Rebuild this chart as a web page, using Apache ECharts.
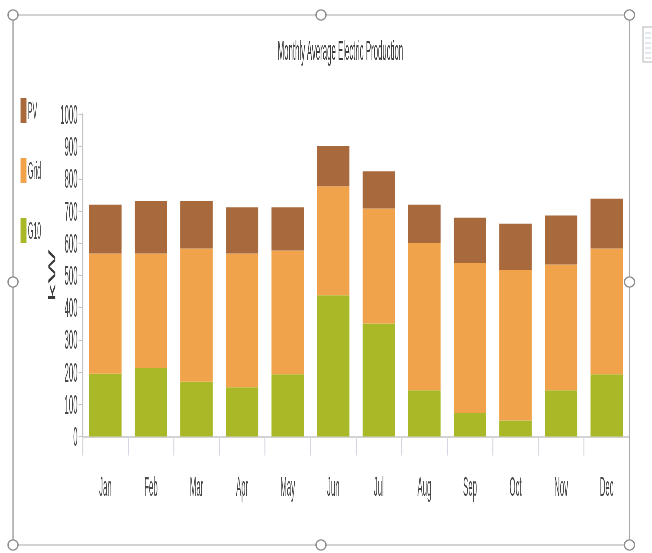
<!DOCTYPE html>
<html>
<head>
<meta charset="utf-8">
<script src="https://cdn.jsdelivr.net/npm/echarts@6/dist/echarts.min.js"></script>
<style>
html,body{margin:0;padding:0;background:#fff;overflow:hidden;width:652px;height:553px;}
#wrap{position:absolute;left:0;top:0;width:2248px;height:553px;transform:scaleX(0.29);transform-origin:0 0;will-change:transform;}
</style>
</head>
<body>
<div id="wrap"></div>
<script>
// Data
const months = ['Jan','Feb','Mar','Apr','May','Jun','Jul','Aug','Sep','Oct','Nov','Dec'];
const g10  = [195, 213, 170, 153, 193, 439, 351, 144, 73, 50, 144, 193];
const grid = [373, 355, 414, 415, 385, 338, 357, 457, 466, 467, 390, 391];
const pv   = [152, 163, 147, 144, 134, 125, 116, 119, 140, 144, 152, 154];
const legendNames = ['PV', 'Grid', 'G10'];
const chartTitle = 'Monthly Average Electric Production';
const yName = 'kW';

// The reference picture is horizontally squeezed; render wide, then compress.
const SX = 0.29;
const WIDE = 2248;
const W = (x) => x / SX;   // screen x -> wide x

const chart = echarts.init(document.getElementById('wrap'), null, {renderer: 'svg'});
const font = 'Liberation Sans, Arial, sans-serif';
const txt = '#474747';

function handle(x, y) {
  return {type: 'circle', x: W(x), y: y, scaleX: 1 / SX, z: 100,
    shape: {cx: 0, cy: 0, r: 5},
    style: {fill: '#fff', stroke: '#8c8c8c', lineWidth: 1.3}};
}
const frameColor = '#a8a8a8';
const graphics = [
  {type: 'line', z: 50, shape: {x1: W(13), y1: 15, x2: W(629), y2: 15}, style: {stroke: frameColor, lineWidth: 1.2}},
  {type: 'line', z: 50, shape: {x1: W(13), y1: 545, x2: W(629), y2: 545}, style: {stroke: frameColor, lineWidth: 1.2}},
  {type: 'line', z: 50, shape: {x1: W(13), y1: 15, x2: W(13), y2: 545}, style: {stroke: frameColor, lineWidth: 1.2 / SX}},
  {type: 'line', z: 50, shape: {x1: W(629.5), y1: 15, x2: W(629.5), y2: 545}, style: {stroke: frameColor, lineWidth: 1.2 / SX}},
  handle(13, 15), handle(321, 15), handle(629.5, 15),
  handle(13, 282), handle(629.5, 282),
  handle(13, 545), handle(321, 545), handle(629.5, 545),
  {type: 'rect', x: W(643), y: 27, scaleX: 1 / SX, z: 50,
    shape: {x: 0, y: 0, width: 14, height: 35},
    style: {fill: '#fff', stroke: '#b5b5b5', lineWidth: 1}}
];
[33, 38, 43, 48, 53, 58].forEach(function (yy) {
  graphics.push({type: 'line', z: 51,
    shape: {x1: W(645.5), y1: yy, x2: W(651), y2: yy},
    style: {stroke: '#7f93b0', lineWidth: 1, lineDash: [W(1), W(1)]}});
});

const option = {
  backgroundColor: '#fff',
  animation: false,
  title: {
    text: chartTitle,
    left: W(339), top: 32, textAlign: 'center',
    textStyle: {fontFamily: font, fontSize: 27, fontWeight: 'normal', color: '#3a3a3a'}
  },
  legend: {
    data: legendNames,
    orient: 'vertical',
    left: W(20.5), top: 98,
    icon: 'rect',
    itemWidth: 6 / SX, itemHeight: 25, itemGap: 35,
    padding: 0,
    textStyle: {fontFamily: font, fontSize: 24, color: txt}
  },
  grid: {left: W(82.6), right: WIDE - W(629.5), top: 114.5, bottom: 553 - 436.5, containLabel: false},
  xAxis: {
    type: 'category',
    data: months,
    axisLine: {lineStyle: {color: '#c4c4c4', width: 1.5}},
    axisTick: {show: true, alignWithLabel: false, length: 19, lineStyle: {color: '#d4d8e0', width: 1 / SX}},
    axisLabel: {fontFamily: font, fontSize: 27, color: txt, margin: 36}
  },
  yAxis: {
    type: 'value',
    min: 0, max: 1000, interval: 100,
    name: yName,
    nameLocation: 'middle',
    nameRotate: 90,
    nameGap: 77,
    nameTextStyle: {fontFamily: font, fontSize: 36, color: '#3a3a3a'},
    axisLine: {show: true, lineStyle: {color: '#c4c4c4', width: 1 / SX}},
    axisTick: {show: true, length: 4 / SX, lineStyle: {color: '#c4c4c4', width: 1}},
    axisLabel: {fontFamily: font, fontSize: 27, color: txt, margin: 5 / SX,
      formatter: function (v) { return String(v); }},
    splitLine: {show: false}
  },
  series: [
    {name: 'G10', type: 'bar', stack: 'total', data: g10, barCategoryGap: '29%',
      itemStyle: {color: '#a9b827'}},
    {name: 'Grid', type: 'bar', stack: 'total', data: grid,
      itemStyle: {color: '#f0a34b'}},
    {name: 'PV', type: 'bar', stack: 'total', data: pv,
      itemStyle: {color: '#a8693c'}}
  ],
  graphic: graphics
};
chart.setOption(option);
</script>
</body>
</html>
